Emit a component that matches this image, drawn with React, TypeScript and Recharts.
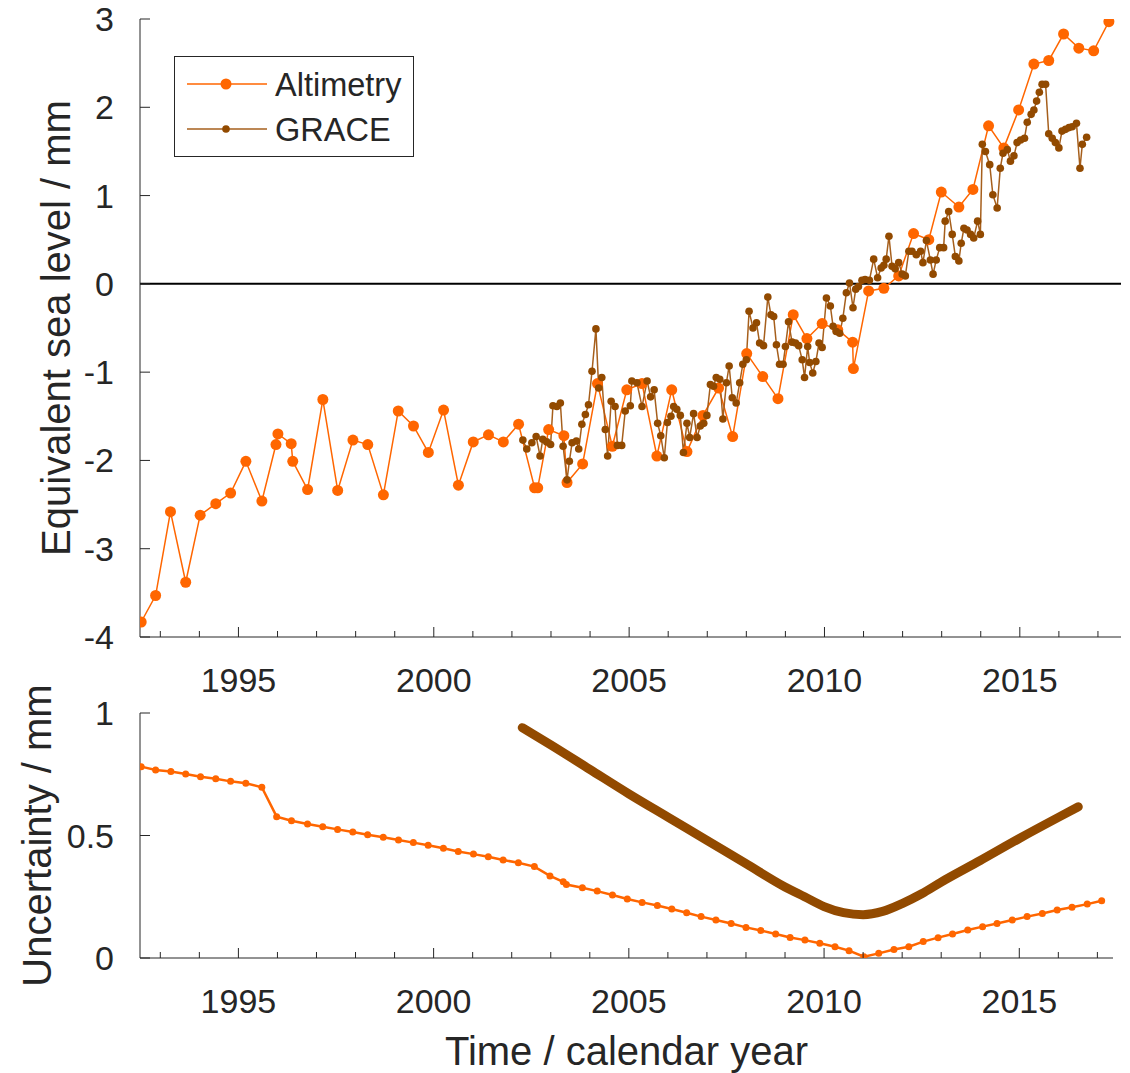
import React from 'react';
import { LineChart, Line, XAxis, YAxis, ReferenceLine, Legend } from 'recharts';

const INK = '#262626';
const ALT = '#FF6600';
const GRACE = '#924A00';
const GRACE_LINE = '#A65F1C';
const FONT = '"Liberation Sans", Arial, Helvetica, sans-serif';

// axis ticks
const yearTicks = [1993, 1994, 1995, 1996, 1997, 1998, 1999, 2000, 2001, 2002, 2003, 2004, 2005,
  2006, 2007, 2008, 2009, 2010, 2011, 2012, 2013, 2014, 2015, 2016, 2017];
const levelTicks = [-4, -3, -2, -1, 0, 1, 2, 3];
const uncTicks = [0, 0.5, 1];

// altimetry, equivalent sea level (mm)
const altYears = [1992.51, 1992.88, 1993.26, 1993.65, 1994.02, 1994.42, 1994.8, 1995.19, 1995.6, 1995.96,
  1996.01, 1996.35, 1996.39, 1996.77, 1997.16, 1997.54, 1997.93, 1998.31, 1998.71, 1999.09,
  1999.48, 1999.86, 2000.25, 2000.63, 2001.01, 2001.4, 2001.78, 2002.17, 2002.58, 2002.66,
  2002.94, 2003.33, 2003.41, 2003.81, 2004.19, 2004.57, 2004.94, 2005.33, 2005.71, 2006.09,
  2006.48, 2006.89, 2007.29, 2007.65, 2008.01, 2008.42, 2008.81, 2009.2, 2009.55, 2009.94,
  2010.34, 2010.72, 2010.74, 2011.13, 2011.52, 2011.9, 2012.28, 2012.67, 2012.99, 2013.44,
  2013.8, 2014.2, 2014.59, 2014.97, 2015.36, 2015.74, 2016.12, 2016.51, 2016.89, 2017.28];
const altLevel = [-3.83, -3.53, -2.58, -3.38, -2.62, -2.49, -2.37, -2.01, -2.46, -1.82,
  -1.7, -1.81, -2.01, -2.33, -1.31, -2.34, -1.77, -1.82, -2.39, -1.44,
  -1.61, -1.91, -1.43, -2.28, -1.79, -1.71, -1.79, -1.59, -2.31, -2.31,
  -1.65, -1.72, -2.25, -2.04, -1.13, -1.84, -1.2, -1.13, -1.95, -1.2,
  -1.9, -1.49, -1.18, -1.73, -0.79, -1.05, -1.3, -0.35, -0.62, -0.45,
  -0.52, -0.66, -0.96, -0.08, -0.05, 0.09, 0.57, 0.5, 1.04, 0.87,
  1.07, 1.79, 1.54, 1.97, 2.49, 2.53, 2.83, 2.67, 2.64, 2.97];

// GRACE, equivalent sea level (mm)
const graceYears = [2002.28, 2002.38, 2002.51, 2002.62, 2002.72, 2002.79, 2002.89, 2002.99, 2003.05, 2003.15,
  2003.24, 2003.31, 2003.41, 2003.47, 2003.54, 2003.65, 2003.71, 2003.79, 2003.88, 2003.96,
  2004.05, 2004.15, 2004.22, 2004.3, 2004.39, 2004.45, 2004.54, 2004.64, 2004.7, 2004.81,
  2004.9, 2005.03, 2005.07, 2005.2, 2005.33, 2005.46, 2005.55, 2005.64, 2005.73, 2005.81,
  2005.9, 2005.98, 2006.07, 2006.14, 2006.22, 2006.31, 2006.39, 2006.48, 2006.55, 2006.65,
  2006.74, 2006.82, 2006.91, 2006.99, 2007.08, 2007.16, 2007.23, 2007.32, 2007.4, 2007.49,
  2007.56, 2007.64, 2007.74, 2007.83, 2007.91, 2008.0, 2008.07, 2008.17, 2008.26, 2008.34,
  2008.44, 2008.55, 2008.63, 2008.7, 2008.77, 2008.85, 2008.94, 2009.0, 2009.08, 2009.17,
  2009.26, 2009.34, 2009.43, 2009.49, 2009.57, 2009.62, 2009.7, 2009.78, 2009.86, 2009.94,
  2010.05, 2010.15, 2010.22, 2010.3, 2010.39, 2010.47, 2010.56, 2010.64, 2010.73, 2010.8,
  2010.87, 2010.96, 2011.04, 2011.15, 2011.26, 2011.36, 2011.45, 2011.52, 2011.58, 2011.65,
  2011.73, 2011.81, 2011.9, 2011.99, 2012.07, 2012.16, 2012.24, 2012.35, 2012.46, 2012.52,
  2012.61, 2012.71, 2012.78, 2012.86, 2012.95, 2013.05, 2013.09, 2013.18, 2013.27, 2013.35,
  2013.44, 2013.5, 2013.57, 2013.65, 2013.74, 2013.82, 2013.92, 2013.99, 2014.04, 2014.12,
  2014.23, 2014.31, 2014.42, 2014.5, 2014.57, 2014.68, 2014.76, 2014.85, 2014.93, 2015.02,
  2015.12, 2015.19, 2015.29, 2015.36, 2015.43, 2015.5, 2015.57, 2015.66, 2015.74, 2015.83,
  2015.91, 2016.0, 2016.08, 2016.17, 2016.26, 2016.34, 2016.45, 2016.54, 2016.6, 2016.71];
const graceLevel = [-1.77, -1.87, -1.8, -1.73, -1.95, -1.76, -1.79, -1.82, -1.38, -1.39,
  -1.35, -1.84, -2.22, -2.01, -1.8, -1.78, -1.87, -1.59, -1.48, -1.37,
  -0.99, -0.51, -1.18, -1.06, -1.65, -1.95, -1.33, -1.39, -1.83, -1.83,
  -1.44, -1.38, -1.1, -1.12, -1.39, -1.1, -1.28, -1.2, -1.58, -1.72,
  -1.97, -1.57, -1.5, -1.39, -1.42, -1.49, -1.91, -1.58, -1.74, -1.47,
  -1.74, -1.61, -1.58, -1.49, -1.14, -1.16, -1.06, -1.08, -1.53, -1.12,
  -0.93, -1.29, -1.35, -1.12, -0.91, -0.86, -0.31, -0.5, -0.44, -0.67,
  -0.7, -0.15, -0.35, -0.37, -0.69, -0.91, -0.91, -0.71, -0.43, -0.66,
  -0.67, -0.7, -0.86, -1.06, -0.71, -0.89, -1.01, -0.88, -0.67, -0.72,
  -0.16, -0.25, -0.48, -0.54, -0.56, -0.39, -0.1, 0.01, -0.27, -0.06,
  -0.03, 0.04, 0.05, 0.04, 0.28, 0.07, 0.18, 0.21, 0.28, 0.54,
  0.2, 0.17, 0.24, 0.11, 0.09, 0.37, 0.37, 0.33, 0.37, 0.24,
  0.49, 0.27, 0.11, 0.27, 0.41, 0.41, 0.71, 0.82, 0.56, 0.31,
  0.26, 0.46, 0.63, 0.61, 0.56, 0.52, 0.71, 0.56, 1.58, 1.5,
  1.35, 1.01, 0.86, 1.31, 1.48, 1.52, 1.39, 1.45, 1.6, 1.63,
  1.65, 1.83, 1.92, 1.97, 2.07, 2.17, 2.26, 2.26, 1.7, 1.65,
  1.6, 1.54, 1.73, 1.75, 1.77, 1.78, 1.82, 1.31, 1.58, 1.66];

// uncertainties (mm)
const altUncYears = [1992.51, 1992.88, 1993.27, 1993.65, 1994.03, 1994.42, 1994.8, 1995.19, 1995.6,
  1995.98, 1996.36, 1996.77, 1997.16, 1997.54, 1997.93, 1998.31, 1998.71, 1999.1, 1999.48, 1999.86,
  2000.25, 2000.63, 2001.02, 2001.4, 2001.78, 2002.17, 2002.58, 2002.98, 2003.32, 2003.4,
  2003.81, 2004.19, 2004.58, 2004.96, 2005.34, 2005.73, 2006.1, 2006.48, 2006.85, 2007.23,
  2007.62, 2008.0, 2008.38, 2008.76, 2009.13, 2009.51, 2009.89, 2010.28, 2010.64, 2011.02,
  2011.4, 2011.79, 2012.17, 2012.54, 2012.92, 2013.29, 2013.68, 2014.06, 2014.43, 2014.82,
  2015.2, 2015.59, 2015.97, 2016.35, 2016.74, 2017.11];
const altUnc = [0.781, 0.767, 0.761, 0.751, 0.74, 0.732, 0.721, 0.713, 0.697,
  0.577, 0.56, 0.547, 0.536, 0.525, 0.514, 0.503, 0.493, 0.482, 0.471, 0.46,
  0.448, 0.435, 0.424, 0.413, 0.4, 0.389, 0.373, 0.335, 0.311, 0.3,
  0.287, 0.273, 0.257, 0.241, 0.227, 0.214, 0.2, 0.185, 0.169, 0.155,
  0.141, 0.125, 0.112, 0.098, 0.084, 0.073, 0.06, 0.046, 0.03, 0.005,
  0.019, 0.035, 0.046, 0.067, 0.083, 0.098, 0.114, 0.128, 0.141, 0.155,
  0.169, 0.182, 0.196, 0.207, 0.22, 0.234];
const graceUncYears = [2002.27, 2003, 2004, 2005, 2006, 2007, 2008, 2009, 2009.5, 2010,
  2010.5, 2011, 2011.5, 2012, 2012.5, 2013, 2014, 2015, 2016, 2016.51];
const graceUnc = [0.94, 0.87, 0.77, 0.67, 0.575, 0.48, 0.385, 0.29, 0.25, 0.21,
  0.185, 0.177, 0.19, 0.222, 0.262, 0.31, 0.398, 0.488, 0.574, 0.617];

const zip = (xs: number[], ys: number[]) =>
  xs.slice(0, Math.min(xs.length, ys.length)).map((x, i) => ({ x, y: ys[i] }));

const altData = zip(altYears, altLevel);
const graceData = zip(graceYears, graceLevel);
const altUncData = zip(altUncYears, altUnc);
const graceUncData = zip(graceUncYears, graceUnc);

const textStyle = { fill: INK, fontFamily: FONT };

// MATLAB-like inward ticks, mirrored on all four sides
const BottomTick = (props: any) => {
  const { x, y, payload } = props;
  const major = payload.value % 5 === 0;
  return (
    <g>
      <line x1={x} x2={x} y1={y} y2={y - (major ? 10 : 6)} stroke={INK} />
      {major && (
        <text x={x} y={y + 55} textAnchor="middle" fontSize={34} {...textStyle}>
          {payload.value}
        </text>
      )}
    </g>
  );
};

const TopTick = (props: any) => {
  const { x, y, payload } = props;
  const major = payload.value % 5 === 0;
  return <line x1={x} x2={x} y1={y} y2={y + (major ? 10 : 6)} stroke={INK} />;
};

const LeftTick = (props: any) => {
  const { x, y, payload } = props;
  return (
    <g>
      <line x1={x} x2={x + 10} y1={y} y2={y} stroke={INK} />
      <text x={x - 26} y={y + 12} textAnchor="end" fontSize={34} {...textStyle}>
        {payload.value}
      </text>
    </g>
  );
};

const RightTick = (props: any) => {
  const { x, y } = props;
  return <line x1={x} x2={x - 10} y1={y} y2={y} stroke={INK} />;
};

const yLabel = (text: string, baseX: number) => (props: any) => {
  const vb = props.viewBox || { y: 0, height: 0 };
  const cy = vb.y + vb.height / 2;
  return (
    <text transform={`translate(${baseX},${cy}) rotate(-90)`} textAnchor="middle" fontSize={40} {...textStyle}>
      {text}
    </text>
  );
};

const xLabel = (props: any) => {
  const vb = props.viewBox || { x: 0, y: 0, width: 0 };
  return (
    <text x={vb.x + vb.width / 2} y={vb.y + 107} textAnchor="middle" fontSize={40} {...textStyle}>
      Time / calendar year
    </text>
  );
};

const LegendBox = () => (
  <svg width={240} height={101} style={{ display: 'block' }}>
    <rect x={0.5} y={0.5} width={239} height={100} fill="#fff" stroke={INK} />
    <line x1={13} x2={93} y1={28} y2={28} stroke={ALT} strokeWidth={1.5} />
    <circle cx={52} cy={28} r={5.5} fill={ALT} />
    <text x={101} y={40} fontSize={32.5} {...textStyle}>Altimetry</text>
    <line x1={13} x2={93} y1={73} y2={73} stroke={GRACE_LINE} strokeWidth={1.5} />
    <circle cx={52} cy={73} r={3.8} fill={GRACE} />
    <text x={101} y={85} fontSize={32.5} {...textStyle}>GRACE</text>
  </svg>
);

const TOP_DOMAIN: [number, number] = [1992.48, 2017.59];
const BOT_DOMAIN: [number, number] = [1992.48, 2017.4];

export default function App() {
  return (
    <div style={{ position: 'absolute', left: 0, top: 0, width: 1130, height: 1073, background: '#fff' }}>
      <div style={{ position: 'absolute', left: 0, top: 0 }}>
        <LineChart width={1130} height={700} margin={{ top: 19, right: 9, bottom: 0, left: 0 }}>
          <XAxis xAxisId="b" type="number" dataKey="x" domain={TOP_DOMAIN} allowDataOverflow ticks={yearTicks}
            interval={0} height={63} tickSize={0} tickMargin={0} tickLine={false}
            axisLine={{ stroke: INK }} tick={<BottomTick />} />
          <XAxis xAxisId="t" orientation="top" type="number" dataKey="x" domain={TOP_DOMAIN} allowDataOverflow
            ticks={yearTicks} interval={0} height={0} tickSize={0} tickMargin={0} tickLine={false}
            axisLine={{ stroke: INK }} tick={<TopTick />} />
          <YAxis yAxisId="l" type="number" domain={[-4, 3]} allowDataOverflow ticks={levelTicks} interval={0}
            width={140} tickSize={0} tickMargin={0} tickLine={false} axisLine={{ stroke: INK }}
            tick={<LeftTick />} label={{ content: yLabel('Equivalent sea level / mm', 70) }} />
          <YAxis yAxisId="r" orientation="right" type="number" domain={[-4, 3]} allowDataOverflow ticks={levelTicks}
            interval={0} width={0} tickSize={0} tickMargin={0} tickLine={false} axisLine={{ stroke: INK }}
            tick={<RightTick />} />
          <ReferenceLine xAxisId="b" yAxisId="l" y={0} stroke="#000" strokeWidth={2} />
          <Line xAxisId="b" yAxisId="l" data={altData} dataKey="y" name="Altimetry" stroke={ALT}
            strokeWidth={1.5} dot={{ r: 5.5, fill: ALT, stroke: 'none' }} isAnimationActive={false} />
          <Line xAxisId="b" yAxisId="l" data={graceData} dataKey="y" name="GRACE" stroke={GRACE_LINE}
            strokeWidth={1.5} dot={{ r: 3.8, fill: GRACE, stroke: 'none' }} isAnimationActive={false} />
          <Legend layout="vertical" align="center" verticalAlign="middle" content={() => <LegendBox />}
            wrapperStyle={{ left: 174, top: 56, width: 240, height: 101 }} />
        </LineChart>
      </div>
      <div style={{ position: 'absolute', left: 0, top: 640 }}>
        <LineChart width={1130} height={433} margin={{ top: 73, right: 17, bottom: 0, left: 0 }}>
          <XAxis xAxisId="b" type="number" dataKey="x" domain={BOT_DOMAIN} allowDataOverflow ticks={yearTicks}
            interval={0} height={115} tickSize={0} tickMargin={0} tickLine={false}
            axisLine={{ stroke: INK }} tick={<BottomTick />} label={{ content: xLabel }} />
          <XAxis xAxisId="t" orientation="top" type="number" dataKey="x" domain={BOT_DOMAIN} allowDataOverflow
            ticks={yearTicks} interval={0} height={0} tickSize={0} tickMargin={0} tickLine={false}
            axisLine={{ stroke: INK }} tick={<TopTick />} />
          <YAxis yAxisId="l" type="number" domain={[0, 1]} allowDataOverflow ticks={uncTicks} interval={0}
            width={140} tickSize={0} tickMargin={0} tickLine={false} axisLine={{ stroke: INK }}
            tick={<LeftTick />} label={{ content: yLabel('Uncertainty / mm', 51) }} />
          <YAxis yAxisId="r" orientation="right" type="number" domain={[0, 1]} allowDataOverflow ticks={uncTicks}
            interval={0} width={0} tickSize={0} tickMargin={0} tickLine={false} axisLine={{ stroke: INK }}
            tick={<RightTick />} />
          <Line xAxisId="b" yAxisId="l" data={graceUncData} dataKey="y" type="monotone" stroke={GRACE}
            strokeWidth={9} strokeLinecap="round" dot={false} isAnimationActive={false} />
          <Line xAxisId="b" yAxisId="l" data={altUncData} dataKey="y" stroke={ALT} strokeWidth={2.5}
            dot={{ r: 3.5, fill: ALT, stroke: 'none' }} isAnimationActive={false} />
        </LineChart>
      </div>
    </div>
  );
}
